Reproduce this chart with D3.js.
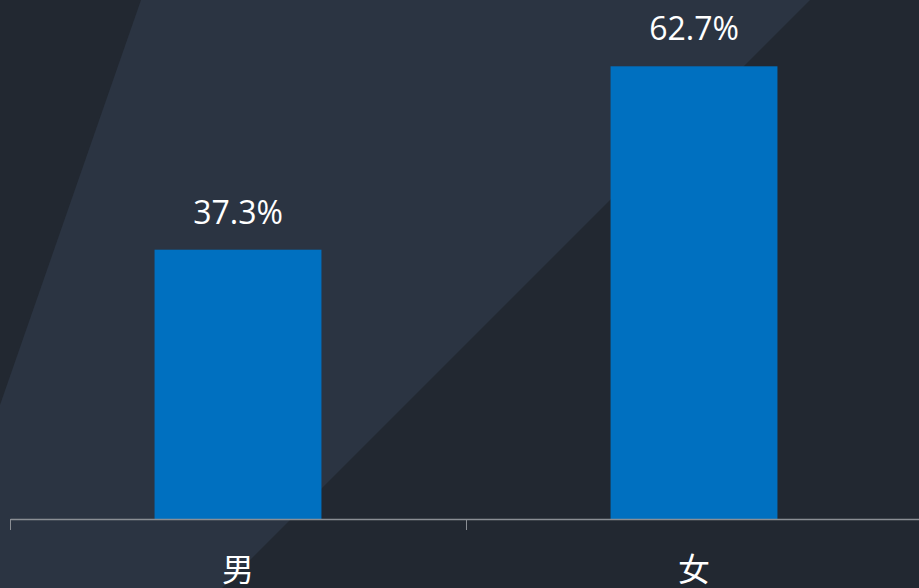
<!DOCTYPE html>
<html>
<head>
<meta charset="utf-8">
<script src="https://cdn.jsdelivr.net/npm/d3@7"></script>
<style>
html,body{margin:0;padding:0;background:#222831;overflow:hidden;}
svg{display:block;}
</style>
</head>
<body>
<svg id="chart" width="919" height="588"></svg>
<script>
const categories = ["男", "女"];
const values = [37.3, 62.7];
const valueLabels = ["37.3%", "62.7%"];

const W = 919, H = 588;
const svg = d3.select("#chart");

// background
svg.append("rect").attr("width", W).attr("height", H).attr("fill", "#222831");
svg.append("polygon")
  .attr("points", [[141,0],[810,0],[222,588],[0,588],[0,405]].map(p => p.join(",")).join(" "))
  .attr("fill", "#2b3442");

const x = d3.scaleBand().domain(categories).range([10, 922]).padding(0);
const y = d3.scaleLinear().domain([0, 70]).range([519, 13.6]);
const barFrac = 0.366;
const bw = x.bandwidth() * barFrac;

svg.selectAll("rect.bar").data(values).enter().append("rect")
  .attr("class", "bar")
  .attr("x", (d, i) => x(categories[i]) + x.bandwidth() / 2 - bw / 2)
  .attr("y", d => y(d))
  .attr("width", bw)
  .attr("height", d => y(0) - y(d))
  .attr("fill", "#0070c0");

svg.selectAll("text.val").data(values).enter().append("text")
  .attr("class", "val")
  .attr("x", (d, i) => x(categories[i]) + x.bandwidth() / 2)
  .attr("y", d => y(d) - 26)
  .attr("text-anchor", "middle")
  .attr("fill", "#ffffff")
  .style("font-family", "'Open Sans', 'Noto Sans', sans-serif")
  .style("font-size", "32px")
  .text((d, i) => valueLabels[i]);

// axis
const axis = d3.axisBottom(x).tickSize(11).tickSizeOuter(0).tickFormat("");
const g = svg.append("g").attr("transform", "translate(0,519)").call(axis);
g.select(".domain").attr("stroke", "#8a8e94").attr("stroke-width", 1.5);
// ticks at band boundaries instead of centers
g.selectAll(".tick").remove();
const bounds = categories.map(c => x(c));
g.selectAll("line.bt").data(bounds).enter().append("line")
  .attr("class", "bt")
  .attr("x1", d => d + 0.5).attr("x2", d => d + 0.5)
  .attr("y1", 0).attr("y2", 11)
  .attr("stroke", "#8a8e94").attr("stroke-width", 1);

svg.selectAll("text.cat").data(categories).enter().append("text")
  .attr("class", "cat")
  .attr("x", d => x(d) + x.bandwidth() / 2)
  .attr("y", 581)
  .attr("text-anchor", "middle")
  .attr("fill", "#ffffff")
  .style("font-family", "'Noto Sans CJK SC', sans-serif")
  .style("font-size", "32px")
  .text(d => d);
</script>
</body>
</html>
